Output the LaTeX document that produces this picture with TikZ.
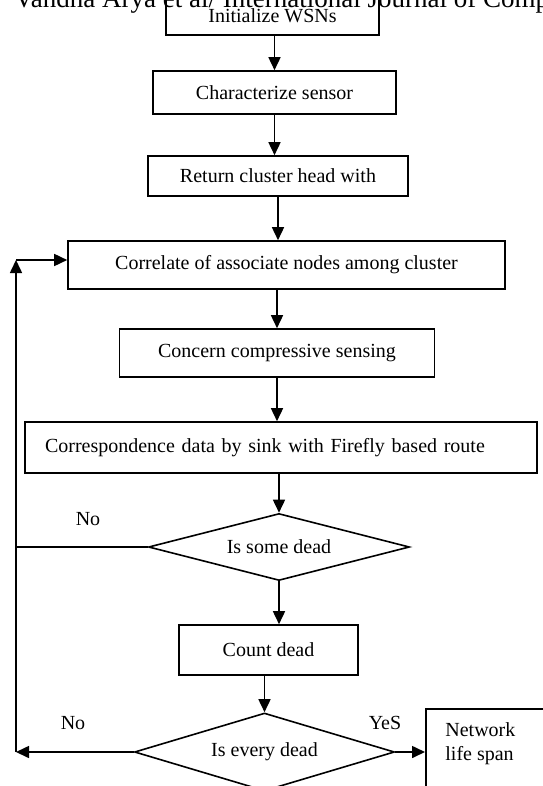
\documentclass[tikz,border=0pt]{standalone}
\usepackage{fontspec}
\setmainfont{Liberation Serif}
\usetikzlibrary{shapes.geometric, arrows.meta, positioning}

\tikzset{
  procbox/.style={draw, line width=0.8pt, inner sep=0pt, align=center},
  decide/.style={draw, diamond, line width=0.8pt, inner sep=0pt},
  arr/.style={line width=0.8pt, -{Triangle[length=6.5pt,width=6pt]}},
  lbl/.style={inner sep=0pt}
}

\begin{document}
\begin{tikzpicture}[x=0.5pt,y=-0.5pt]
\useasboundingbox (0,0) rectangle (542,786);
%------------------------------
% page header (cut at the top)
%______________________________
\node[anchor=base west, inner sep=0pt, font=\fontsize{13.5}{15}\selectfont] (header) at (14,8) {Vandna Arya et al/ International Journal of Comp};
%
% steps
%
\node[procbox, minimum width=106.5pt, minimum height=19pt] (init) at (272.5,16) {Initialize WSNs};
\node[procbox, minimum width=121.5pt, minimum height=21.5pt] (charac) at (274.5,92.5) {Characterize sensor};
\node[procbox, minimum width=130pt, minimum height=20pt] (ret) at (278,176) {Return cluster head with};
\node[procbox, minimum width=218.5pt, minimum height=24pt] (corr) at (286.5,265) {Correlate of associate nodes among cluster};
\node[procbox, minimum width=157.5pt, minimum height=24pt] (conc) at (277,353) {Concern compressive sensing};
\node[procbox, text width=236pt, inner xsep=10pt, align=left, minimum height=25.5pt] (resp) at (281,447.5) {Correspondence data by sink with Firefly based route};
\node[decide, shape aspect=3.9, minimum width=130.5pt, minimum height=33.5pt] (some) at (279,547) {Is some dead};
\node[procbox, minimum width=89.5pt, minimum height=25pt] (count) at (268.5,650) {Count dead};
\node[decide, shape aspect=3.33, minimum width=130pt, minimum height=39pt] (every) at (264.5,752) {Is every dead};
\node[procbox, anchor=north west, minimum width=72.5pt, minimum height=51pt] (life) at (425,708) {};
\node[anchor=north west, align=left, inner sep=0pt] (lifetxt) at ([xshift=10pt,yshift=-7pt]life.north west) {Network\\life span};
%
\node[lbl] (no1) at (88,519) {No};
\node[lbl] (no2) at (73,723) {No};
\node[lbl] (yes) at (385,723) {YeS};
%
% arrows
%
\draw[arr] (charac.north |- init.south) -- (charac.north);
\draw[arr] (charac.south) -- (charac.south |- ret.north);
\draw[arr] (ret.south) -- (ret.south |- corr.north);
\draw[arr] (conc.north |- corr.south) -- (conc.north);
\draw[arr] (conc.south) -- (conc.south |- resp.north);
\draw[arr] (some.north |- resp.south) -- (some.north);
\draw[arr] (some.south) -- (some.south |- count.north);
\draw[arr] (every.north |- count.south) -- (every.north);
\draw[arr] (every.east) -- (every.east -| life.west);
%
% back to the cluster step
%
\coordinate (loopbot) at (16,752);
\coordinate (looptop) at (16,260);
\draw[arr] (every.west) -- (loopbot);
\draw[arr] (loopbot) -- (looptop);
\draw[arr] (looptop) -- (looptop -| corr.west);
\draw[line width=0.8pt] (some.west) -- (some.west -| loopbot);
\end{tikzpicture}
\end{document}
